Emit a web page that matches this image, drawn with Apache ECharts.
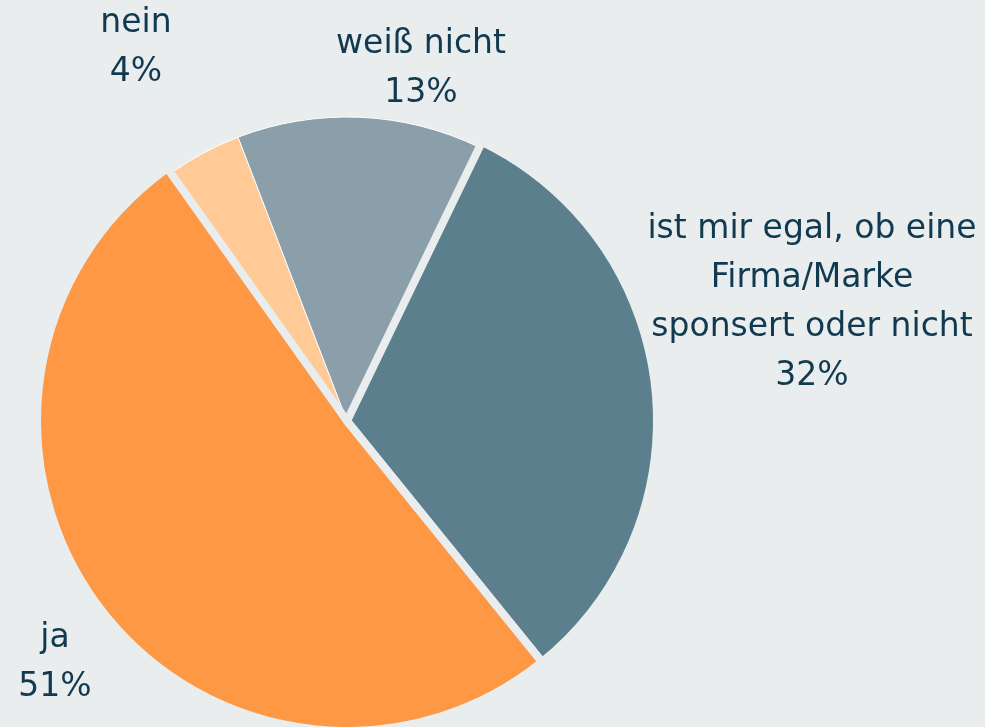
<!DOCTYPE html>
<html><head><meta charset="utf-8">
<script src="https://cdn.jsdelivr.net/npm/echarts@6/dist/echarts.min.js"></script>
<style>html,body{margin:0;padding:0;background:#E9EDEE;}#c{width:985px;height:727px;}</style>
</head><body><div id="c"></div>
<script>
const categories = ["ist mir egal, ob eine\nFirma/Marke\nsponsert oder nicht", "ja", "nein", "weiß nicht"];
const values = [32, 51, 4, 13];
const colors = ["#5B7F8C", "#FF9845", "#FFCA96", "#8A9FA9"];
const labelPos = [[812, 303], [55, 663], [136, 48], [421, 69]];
const BG = "#E9EDEE";
const NONE = 'rgba(0,0,0,0)';
const chart = echarts.init(document.getElementById('c'));
const common = { type: 'pie', center: [347, 421], startAngle: 64.2, clockwise: true, emphasis: { disabled: true }, silent: true, labelLine: { show: false } };
const big = i => i < 2;
chart.setOption({
  backgroundColor: BG,
  animation: false,
  series: [Object.assign({}, common, {
    radius: 310,
    data: categories.map((n, i) => ({
      name: n, value: values[i],
      itemStyle: { color: big(i) ? colors[i] : NONE, borderWidth: 0 }
    })),
    label: {
      show: true,
      position: 'outside',
      formatter: p => p.name + '\n' + p.value + '%',
      color: '#113A50',
      fontFamily: 'DejaVu Sans',
      fontSize: 33,
      lineHeight: 49,
      align: 'center',
      overflow: 'none'
    },
    labelLayout: function (p) {
      const pos = labelPos[p.dataIndex];
      return { x: pos[0], y: pos[1], align: 'center', verticalAlign: 'middle', hideOverlap: false };
    }
  }), Object.assign({}, common, {
    radius: 304,
    z: 3,
    data: categories.map((n, i) => ({
      name: n, value: values[i],
      itemStyle: { color: big(i) ? NONE : colors[i], borderColor: big(i) ? NONE : '#FFFFFF', borderWidth: big(i) ? 0 : 1 }
    })),
    label: { show: false }
  }), Object.assign({}, common, {
    radius: 310,
    z: 4,
    data: categories.map((n, i) => ({
      name: n, value: values[i],
      itemStyle: { color: NONE, borderColor: big(i) ? BG : NONE, borderWidth: big(i) ? 8 : 0 }
    })),
    label: { show: false }
  })]
});
</script></body></html>
